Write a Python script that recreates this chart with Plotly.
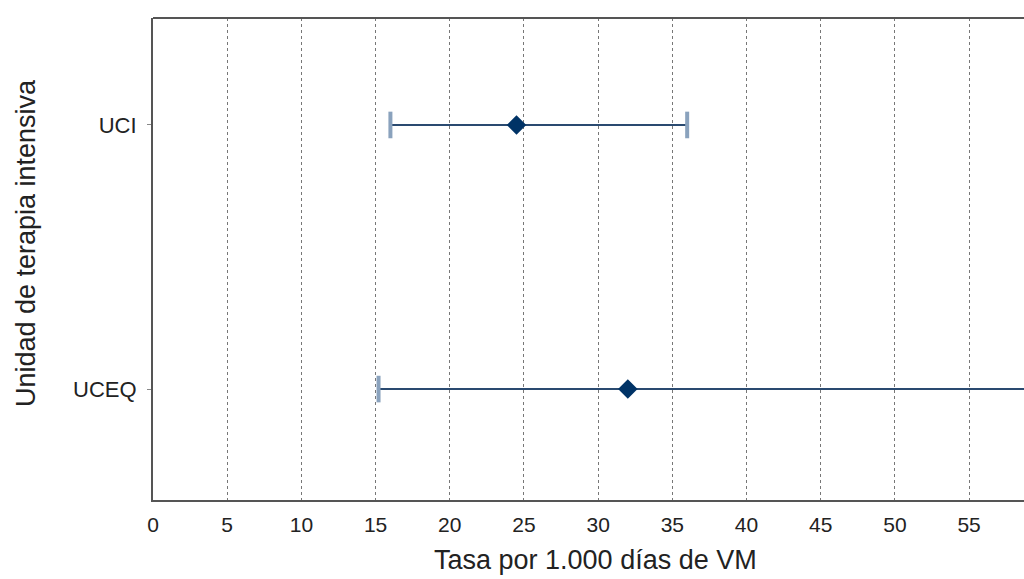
import plotly.graph_objects as go

categories = ["UCI", "UCEQ"]
rate = [24.5, 32.0]
lower = [16.0, 15.2]
upper = [36.0, 75.0]
x_ticks = list(range(0, 60, 5))

fig = go.Figure()

# whisker lines
for c, lo, hi in zip(categories, lower, upper):
    fig.add_trace(go.Scatter(
        x=[lo, hi], y=[c, c], mode="lines",
        line=dict(color="#2a4a70", width=2), showlegend=False, hoverinfo="skip",
    ))

# caps
fig.add_trace(go.Scatter(
    x=lower + upper, y=categories + categories, mode="markers",
    marker=dict(symbol="line-ns", size=19, line=dict(color="#8aa2bd", width=4)),
    showlegend=False, hoverinfo="skip", cliponaxis=True,
))

# points
fig.add_trace(go.Scatter(
    x=rate, y=categories, mode="markers",
    marker=dict(symbol="diamond", size=15, color="#003366"),
    showlegend=False,
))

fig.update_layout(
    width=1024, height=579,
    margin=dict(l=153, r=0, t=18, b=79),
    plot_bgcolor="white", paper_bgcolor="white",
    font=dict(family="Liberation Sans, Arial, sans-serif", color="#222"),
    xaxis=dict(
        range=[0, 58.7], tickvals=x_ticks, ticktext=[str(v) for v in x_ticks],
        showgrid=True, gridcolor="#777", gridwidth=1, griddash="3px,3px",
        showline=True, linecolor="#555", linewidth=2, zeroline=False,
        ticks="", tickfont=dict(size=21), ticklabelstandoff=5,
    ),
    yaxis=dict(
        type="category", categoryorder="array", categoryarray=["UCEQ", "UCI"],
        range=[-0.42, 1.405], showgrid=False, zeroline=False,
        showline=True, linecolor="#555", linewidth=2,
        ticks="outside", ticklen=4, tickcolor="#888", tickfont=dict(size=22),
        ticklabelstandoff=6,
    ),
    annotations=[
        dict(text="Tasa por 1.000 días de VM", xref="paper", yref="paper",
             x=0.5075, y=-0.1245, xanchor="center", yanchor="middle",
             showarrow=False, font=dict(size=27)),
        dict(text="Unidad de terapia intensiva", xref="paper", yref="paper",
             x=-0.1458, y=0.533, xanchor="center", yanchor="middle", textangle=-90,
             showarrow=False, font=dict(size=27)),
    ],
    shapes=[dict(type="line", xref="paper", yref="paper", x0=0, x1=1, y0=1, y1=1,
                 line=dict(color="#555", width=2))],
)

fig.write_html("out.html")
